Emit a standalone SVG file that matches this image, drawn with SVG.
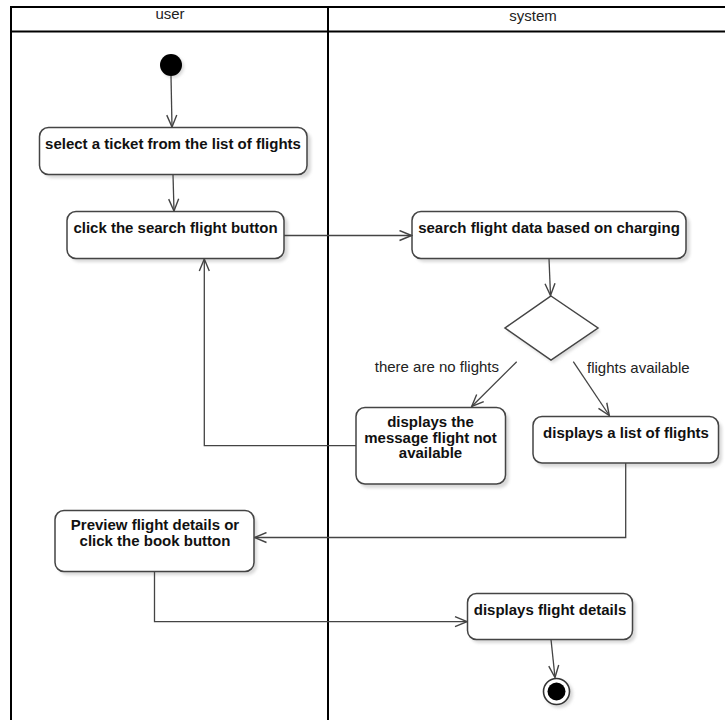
<svg xmlns="http://www.w3.org/2000/svg" width="725" height="720" viewBox="0 0 725 720">
<style>
.frame{fill:none;stroke:#000;stroke-width:2}
.box{fill:#fff;stroke:#444;stroke-width:1.5}
.shadow{fill:#d9d9d9;filter:url(#blur)}
.lbl{font-family:"Liberation Sans",Arial,sans-serif;font-size:15px;font-weight:bold;fill:#111;text-anchor:middle}
.guard{font-family:"Liberation Sans",Arial,sans-serif;font-size:15px;fill:#222}
.lane{font-family:"Liberation Sans",Arial,sans-serif;font-size:15px;fill:#222;text-anchor:middle}
.conn{fill:none;stroke:#444;stroke-width:1.3;marker-end:url(#arr)}
</style>
<defs>
<filter id="blur" x="-20%" y="-20%" width="140%" height="140%"><feGaussianBlur stdDeviation="1.5"/></filter>
<marker id="arr" viewBox="0 0 14 12" refX="13" refY="6" markerWidth="14" markerHeight="12" orient="auto" markerUnits="userSpaceOnUse">
<path d="M1,1 L13,6 L1,11" fill="none" stroke="#444" stroke-width="1.4"/>
</marker>
</defs>
<rect width="725" height="720" fill="#fff"/>
<g id="swimlanes">
<path class="frame" d="M11,740 L11,7 L740,7 M11,31.5 L740,31.5 M328,7 L328,740"/>
<text class="lane" x="170" y="19">user</text>
<text class="lane" x="533" y="21">system</text>
</g>
<g id="start">
<circle cx="173" cy="67" r="11" class="shadow"/>
<circle cx="171" cy="65" r="11" fill="#000"/>
</g>
<g id="select-ticket">
<rect class="shadow" x="43" y="131" width="268" height="47" rx="9"/>
<rect class="box" x="39.5" y="127.5" width="267.5" height="47" rx="9"/>
<text class="lbl" x="173" y="149">select a ticket from the list of flights</text>
</g>
<g id="click-search">
<rect class="shadow" x="70" y="215" width="218" height="47" rx="9"/>
<rect class="box" x="67" y="211.5" width="217" height="47" rx="9"/>
<text class="lbl" x="175.5" y="233">click the search flight button</text>
</g>
<g id="search-data">
<rect class="shadow" x="415" y="215" width="275" height="47" rx="9"/>
<rect class="box" x="412" y="211.5" width="274" height="47" rx="9"/>
<text class="lbl" x="549" y="233">search flight data based on charging</text>
</g>
<g id="decision">
<polygon points="553,299 600,331 553,363 507,331" class="shadow"/>
<polygon points="551,296 598,328 551,360 505,328" fill="#fff" stroke="#444" stroke-width="1.5"/>
</g>
<g id="no-flights-msg">
<rect class="shadow" x="359" y="411" width="150" height="77" rx="9"/>
<rect class="box" x="356" y="407.5" width="149.5" height="76.5" rx="9"/>
<text class="lbl" x="430.5" y="427">displays the</text>
<text class="lbl" x="430.5" y="442.5">message flight not</text>
<text class="lbl" x="430.5" y="458">available</text>
</g>
<g id="list-flights">
<rect class="shadow" x="536" y="420" width="186" height="47" rx="9"/>
<rect class="box" x="533" y="416.5" width="185.5" height="46.5" rx="9"/>
<text class="lbl" x="626" y="437.5">displays a list of flights</text>
</g>
<g id="preview-book">
<rect class="shadow" x="58" y="514" width="199" height="61" rx="9"/>
<rect class="box" x="55" y="510.5" width="199" height="61" rx="9"/>
<text class="lbl" x="155" y="530">Preview flight details or</text>
<text class="lbl" x="155" y="545.5">click the book button</text>
</g>
<g id="flight-details">
<rect class="shadow" x="470" y="597" width="166" height="46" rx="9"/>
<rect class="box" x="467.5" y="593.5" width="165" height="46" rx="9"/>
<text class="lbl" x="550" y="615">displays flight details</text>
</g>
<g id="end">
<circle cx="559" cy="694" r="14" class="shadow"/>
<circle cx="556.5" cy="691.5" r="13" fill="#fff" stroke="#333" stroke-width="1.6"/>
<circle cx="556.5" cy="691.5" r="9" fill="#000"/>
</g>
<g id="connectors">
<path class="conn" d="M171,76 L172,127"/>
<path class="conn" d="M173,174.5 L174,211"/>
<path class="conn" d="M284,235.5 L411.5,235.5"/>
<path class="conn" d="M549,258.5 L550.5,295.5"/>
<path class="conn" d="M516.7,361.7 L471.7,406.5"/>
<path class="conn" d="M573.3,361.7 L609.3,415.5"/>
<path class="conn" d="M356,445.7 L204.3,445.7 L204.3,259"/>
<path class="conn" d="M625.7,463 L625.7,537.5 L254.5,537.5"/>
<path class="conn" d="M154.5,571.5 L154.5,621.7 L467,621.7"/>
<path class="conn" d="M551,639.5 L555,677.5"/>
<text class="guard" x="499" y="372" text-anchor="end">there are no flights</text>
<text class="guard" x="587" y="373">flights available</text>
</g>
</svg>
